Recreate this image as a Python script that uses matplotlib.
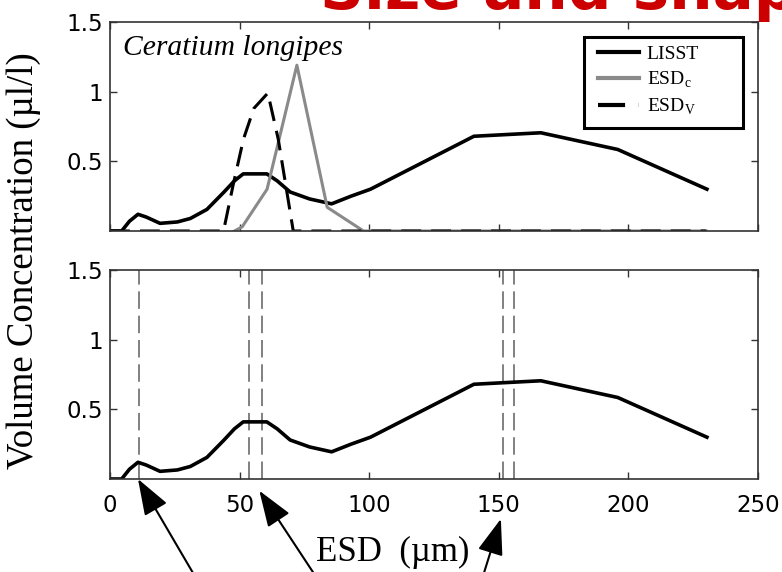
import matplotlib
matplotlib.use("Agg")
import matplotlib.pyplot as plt
from matplotlib.patches import Rectangle

# LISST volume distribution (same curve in both panels)
lisst_esd = [0, 4.5, 7.5, 10.8, 14, 19.3, 26, 31, 37.4, 44, 48, 51.4, 60.5, 64.5,
             69.5, 77, 85.5, 93, 100.5, 140.4, 166.2, 195.9, 230.3]
lisst_vol = [0, 0, 0.07, 0.12, 0.1, 0.055, 0.065, 0.09, 0.155, 0.28, 0.36, 0.41, 0.41,
             0.36, 0.28, 0.23, 0.195, 0.25, 0.3, 0.68, 0.705, 0.585, 0.3]

# microscope derived distributions
esdc_esd = [48, 51, 60.6, 72.1, 83.8, 97.8, 230]
esdc_vol = [0, 0.03, 0.3, 1.19, 0.17, 0, 0]
esdv_esd = [0, 43.8, 47.5, 51.5, 55.5, 60.9, 64.9, 70.7, 230]
esdv_vol = [0, 0, 0.33, 0.66, 0.88, 0.99, 0.66, 0, 0]

# peaks marked in the lower panel
peak_esd = [11, 53.5, 58.8, 151.7, 155.8]

# arrows (tip, tail) in lower panel data units
arrows = [((10.8, 0.0), (34.4, -0.75)),
          ((57.6, -0.084), (81.2, -0.75)),
          ((150.8, -0.286), (143.0, -0.75))]

xticks = [0, 50, 100, 150, 200, 250]
yticks = [0.5, 1, 1.5]
ytick_labels = ['0.5', '1', '1.5']

plt.rcParams['mathtext.fontset'] = 'custom'
plt.rcParams['mathtext.rm'] = 'Liberation Serif'

W, H = 782, 572
fig = plt.figure(figsize=(W / 100, H / 100), dpi=100)
ax1 = fig.add_axes([110 / W, 1 - 231 / H, 648 / W, 209 / H])
ax2 = fig.add_axes([110 / W, 1 - 479 / H, 648 / W, 209 / H])
aw, ah = 648, 209

spine_col = '#333333'
for ax in (ax1, ax2):
    ax.set_xlim(0, 250)
    ax.set_ylim(0, 1.5)
    ax.set_xticks(xticks)
    ax.set_yticks(yticks)
    ax.set_yticklabels(ytick_labels)
    ax.tick_params(direction='in', top=True, right=True, length=5, width=1,
                   color=spine_col, labelsize=16.5)
    ax.tick_params(axis='y', pad=5)
    ax.tick_params(axis='x', pad=11)
    for s in ax.spines.values():
        s.set_color(spine_col)
        s.set_linewidth(1.2)
    ax.plot(lisst_esd, lisst_vol, color='black', lw=2.6, label='LISST',
            solid_joinstyle='round')

ax1.set_xticklabels([])

ax1.plot(esdc_esd, esdc_vol, color='#8a8a8a', lw=2.2, label=r'ESD$_\mathrm{c}$')
ax1.plot(esdv_esd, esdv_vol, color='black', lw=2.2, dashes=(6.5, 3.3),
         label=r'ESD$_\mathrm{V}$')

ax1.text(13 / aw, (231 - 55) / ah, 'Ceratium longipes', transform=ax1.transAxes,
         family='Liberation Serif', style='italic', fontsize=21.3, va='baseline')

# legend: MATLAB style box, wider than its content
leg = ax1.legend(loc='center left', bbox_to_anchor=((598 - 110) / aw, (231 - 81) / ah),
                 prop={'family': 'Liberation Serif', 'size': 14},
                 frameon=False, handlelength=2.1, handletextpad=0.4,
                 labelspacing=0.35, borderpad=0, borderaxespad=0)
for ln in leg.get_lines():
    ln.set_linewidth(3)
ax1.add_patch(Rectangle(((584 - 110) / aw, (231 - 128) / ah), (743 - 584) / aw,
                        (128 - 37) / ah, transform=ax1.transAxes, fill=False,
                        edgecolor='black', lw=2.2, zorder=5))

for x in peak_esd:
    ax2.axvline(x, color='#808080', lw=1.4, dashes=(9, 3.5), zorder=1)

for tip, tail in arrows:
    ax2.annotate('', xy=tip, xytext=tail, annotation_clip=False,
                 arrowprops=dict(arrowstyle='-|>,head_length=1.4,head_width=0.5',
                                 color='black', lw=1.5, mutation_scale=16,
                                 shrinkA=0, shrinkB=0))

fig.text(24 / W, 1 - 261 / H, 'Volume Concentration (µl/l)', rotation=90,
         family='Liberation Serif', fontsize=26.5, ha='center', va='center')
fig.text(393 / W, 1 - 552 / H, 'ESD  (µm)', family='Liberation Serif',
         fontsize=25, ha='center', va='center')

fig.text(320 / W, 1 - 9 / H, 'Size and shape', color='#cc0000', fontsize=44,
         family='DejaVu Sans', weight='bold', ha='left', va='baseline')

fig.savefig('out.png', dpi=100)
